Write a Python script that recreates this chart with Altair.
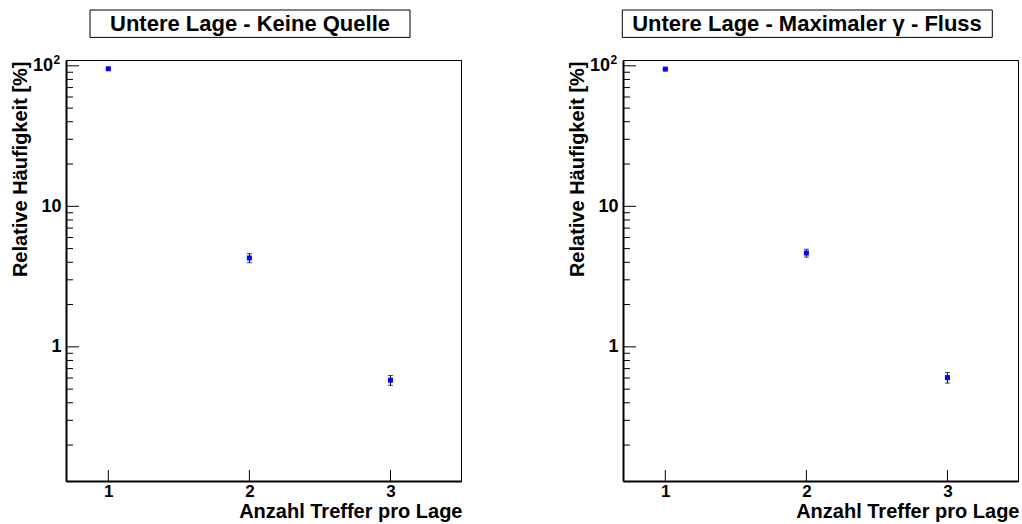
import altair as alt
import pandas as pd

# Hit multiplicity per layer (x) and relative frequency in percent (y)
hits = [1, 2, 3]

freq_none = [95.3, 4.29, 0.579]
err_none = [0.6, 0.32, 0.047]

freq_gamma = [94.7, 4.65, 0.604]
err_gamma = [0.6, 0.30, 0.052]

titles = ["Untere Lage - Keine Quelle", "Untere Lage - Maximaler \u03b3 - Fluss"]

major_y = [1, 10, 100]
minor_y = [0.2, 0.3, 0.4, 0.5, 0.6, 0.7, 0.8, 0.9,
           2, 3, 4, 5, 6, 7, 8, 9,
           20, 30, 40, 50, 60, 70, 80, 90]

FONT = "Liberation Sans"
W, H = 395, 421


def panel(title, values, errs, box_x, box_x2):
    df = pd.DataFrame({
        "hits": hits,
        "freq": values,
        "lo": [v - e for v, e in zip(values, errs)],
        "hi": [v + e for v, e in zip(values, errs)],
    })

    xs = alt.Scale(domain=[0.7, 3.5], nice=False, zero=False)
    ys = alt.Scale(type="log", domain=[0.111, 110], nice=False)

    x_axis = alt.Axis(
        values=[1, 2, 3], format="d", ticks=False, tickSize=0, grid=False,
        domain=True, domainColor="black", domainWidth=2,
        labelFont=FONT, labelFontSize=17, labelFontWeight="bold",
        labelColor="black", labelPadding=2,
        title="Anzahl Treffer pro Lage", titleFont=FONT, titleFontSize=20,
        titleFontWeight="bold", titleColor="black",
        titleAnchor="end", titleAlign="right", titleBaseline="alphabetic",
        titleX=W + 1, titleY=36,
    )
    # the 10^2 label is drawn separately with a raised exponent
    y_axis = alt.Axis(
        values=major_y, ticks=False, tickSize=0, grid=False,
        labelExpr="datum.value == 100 ? '' : datum.label",
        domain=True, domainColor="black", domainWidth=2,
        labelFont=FONT, labelFontSize=18, labelFontWeight="bold",
        labelColor="black", labelPadding=5,
        title="Relative H\u00e4ufigkeit [%]", titleFont=FONT, titleFontSize=20,
        titleFontWeight="bold", titleColor="black", titleAngle=270,
        titleAnchor="end", titleAlign="right", titleBaseline="alphabetic",
        titleX=-39.5, titleY=1,
    )

    base = alt.Chart(df)
    bars = base.mark_rule(color="black", strokeWidth=1).encode(
        x=alt.X("hits:Q", scale=xs, axis=x_axis),
        y=alt.Y("lo:Q", scale=ys, axis=y_axis),
        y2="hi:Q",
    )
    cap_lo = base.mark_tick(color="black", orient="horizontal", size=5, thickness=1).encode(
        x=alt.X("hits:Q", scale=xs), y=alt.Y("lo:Q", scale=ys))
    cap_hi = base.mark_tick(color="black", orient="horizontal", size=5, thickness=1).encode(
        x=alt.X("hits:Q", scale=xs), y=alt.Y("hi:Q", scale=ys))
    pts = base.mark_square(size=25, color="#0000ff", opacity=1, strokeWidth=0).encode(
        x=alt.X("hits:Q", scale=xs), y=alt.Y("freq:Q", scale=ys))

    # tick marks drawn inside the frame
    yt_major = alt.Chart(pd.DataFrame({"lo": major_y})).mark_rule(
        color="black", strokeWidth=1).encode(
        y=alt.Y("lo:Q", scale=ys), x=alt.value(0), x2=alt.value(13))
    yt_minor = alt.Chart(pd.DataFrame({"lo": minor_y})).mark_rule(
        color="black", strokeWidth=1).encode(
        y=alt.Y("lo:Q", scale=ys), x=alt.value(0), x2=alt.value(7))
    xt = alt.Chart(pd.DataFrame({"hits": hits})).mark_rule(
        color="black", strokeWidth=1).encode(
        x=alt.X("hits:Q", scale=xs), y=alt.value(H), y2=alt.value(H - 11))

    # "10" with superscript "2" at the top decade
    pdf = pd.DataFrame({"lo": [100], "base": ["10"], "exp": ["2"]})
    p_base = alt.Chart(pdf).mark_text(
        font=FONT, fontSize=18, fontWeight="bold", color="black",
        align="right", baseline="middle").encode(
        y=alt.Y("lo:Q", scale=ys), x=alt.value(-13), text="base:N")
    p_exp = alt.Chart(pdf).mark_text(
        font=FONT, fontSize=12, fontWeight="bold", color="black",
        align="left", baseline="middle", dy=-6).encode(
        y=alt.Y("lo:Q", scale=ys), x=alt.value(-12.5), text="exp:N")

    # boxed panel title
    tdf = pd.DataFrame({"t": [title]})
    box = alt.Chart(tdf).mark_rect(fill="white", stroke="black", strokeWidth=1).encode(
        x=alt.value(box_x), x2=alt.value(box_x2), y=alt.value(-50), y2=alt.value(-22.6))
    ttext = alt.Chart(tdf).mark_text(
        font=FONT, fontSize=22, fontWeight="bold", color="black",
        align="center", baseline="alphabetic").encode(
        x=alt.value(184), y=alt.value(-29.5), text="t:N")

    return alt.layer(bars, cap_lo, cap_hi, yt_major, yt_minor, xt, pts,
                     p_base, p_exp, box, ttext).properties(width=W, height=H)


left = panel(titles[0], freq_none, err_none, 24, 344)
right = panel(titles[1], freq_gamma, err_gamma, -0.7, 369.3)

chart = alt.hconcat(left, right, spacing=104).properties(
    background="white",
    padding={"left": 10, "top": 9, "right": 0, "bottom": 0},
).configure_view(stroke="black", strokeWidth=1)

chart.save("out.html", embed_options={"renderer": "svg", "actions": False})
